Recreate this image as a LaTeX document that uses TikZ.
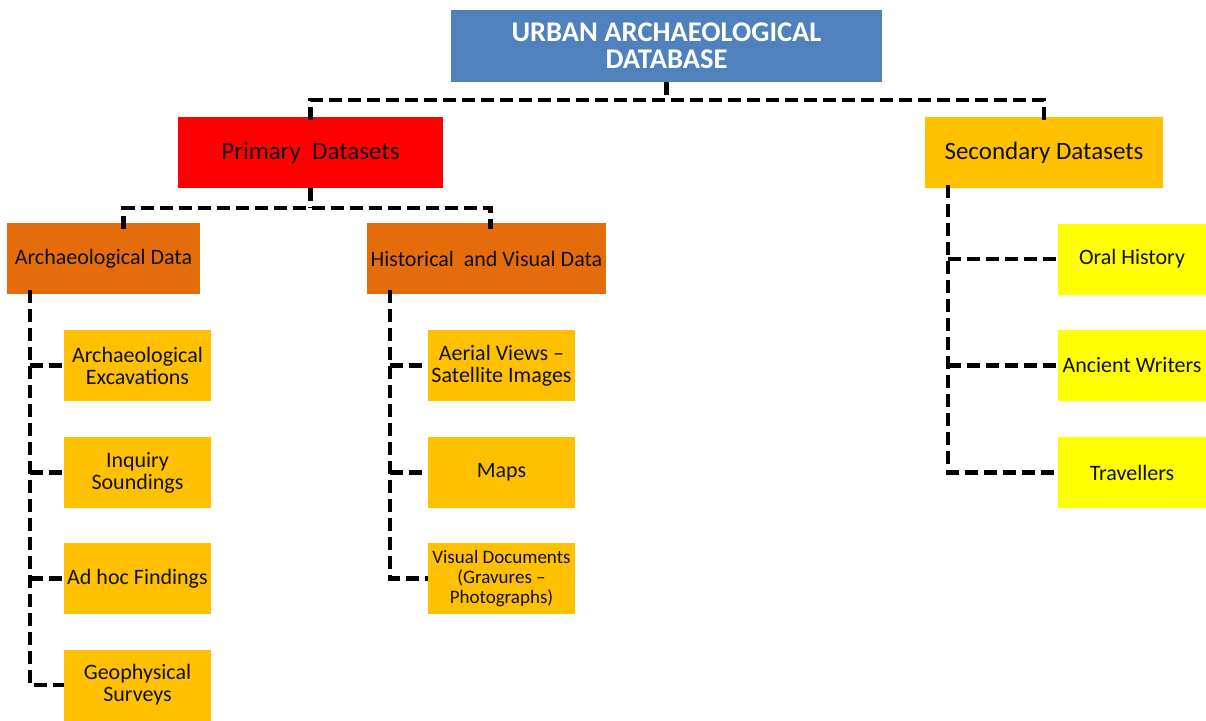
\documentclass[tikz,border=0pt]{standalone}
\usepackage{fontspec}
\setmainfont{Carlito}
\definecolor{cblue}{HTML}{4F81BD}
\definecolor{cred}{HTML}{FF0000}
\definecolor{corange}{HTML}{E46C0A}
\definecolor{camber}{HTML}{FFC000}
\definecolor{cyellow}{HTML}{FFFF00}
\definecolor{ctext}{HTML}{111111}
\tikzset{
  box/.style={rectangle, inner sep=0pt, align=center, text=ctext},
  lvone/.style={box, minimum height=71pt, font=\fontsize{25}{28}\selectfont},
  lvtwo/.style={box, fill=corange, minimum height=71pt, font=\fontsize{22}{24}\selectfont},
  leaf/.style={box, fill=camber, minimum width=147pt, minimum height=71pt, font=\fontsize{22}{22}\selectfont},
  sleaf/.style={box, fill=cyellow, minimum width=148pt, minimum height=71pt, font=\fontsize{22}{22}\selectfont},
  conn/.style={draw=black, line width=4.5pt, dash pattern=on 13pt off 6pt},
}
\begin{document}
\begin{tikzpicture}[x=1pt,y=-1pt]
\useasboundingbox (0,0) rectangle (1206,720);
% nodes
\node[box, fill=cblue, minimum width=431pt, minimum height=72pt, text=white,
      font=\bfseries\fontsize{28.5}{27}\selectfont] (top) at (666.5,46) {URBAN ARCHAEOLOGICAL\\DATABASE};
\node[lvone, fill=cred, minimum width=265pt] (prim) at (310.5,152.5) {Primary\ \ Datasets};
\node[lvone, fill=camber, minimum width=238pt] (sec) at (1044,152.5) {Secondary Datasets};
\node[lvtwo, minimum width=193pt] (arch) at (103.5,258.5) {Archaeological Data};
\node[lvtwo, minimum width=239pt] (hist) at (486.5,258.5) {Historical\ \ and Visual Data};
\node[leaf] (a1) at (137.5,365.5) {Archaeological\\Excavations};
\node[leaf] (a2) at (137.5,472.5) {Inquiry\\Soundings};
\node[leaf] (a3) at (137.5,578.5) {Ad hoc Findings};
\node[leaf] (a4) at (137.5,685) {Geophysical\\Surveys};
\node[leaf] (h1) at (501.5,365.5) {Aerial Views --\\Satellite Images};
\node[leaf] (h2) at (501.5,472.5) {Maps};
\node[leaf, font=\fontsize{19}{20}\selectfont] (h3) at (501.5,578.5) {Visual Documents\\(Gravures --\\Photographs)};
\node[sleaf] (s1) at (1132,259) {Oral History};
\node[sleaf] (s2) at (1132,365.5) {Ancient Writers};
\node[sleaf] (s3) at (1132,472.5) {Travellers};
% helper coordinates
\coordinate (bus1) at (666.5,100);
\coordinate (bus2) at (311,208);
\coordinate (lx) at (30,0);
\coordinate (mx) at (390,0);
\coordinate (rx) at (948,0);
% connectors
\draw[conn] (top.south) -- (top.south |- bus1);
\draw[conn] ([yshift=-3pt]prim.north) -- (prim.north |- bus1) -| ([yshift=-3pt]sec.north);
\draw[conn] (prim.south) -- (prim.south |- bus2);
\draw[conn] ([xshift=20pt,yshift=-6pt]arch.north) |- (bus2) -| ([xshift=4pt,yshift=-6pt]hist.north);
\draw[conn] ([yshift=4pt]arch.south -| lx) |- (a4.west);
\draw[conn] (a1.west -| lx) -- (a1.west);
\draw[conn] (a2.west -| lx) -- (a2.west);
\draw[conn] (a3.west -| lx) -- (a3.west);
\draw[conn] ([yshift=4pt]hist.south -| mx) |- (h3.west);
\draw[conn] (h1.west -| mx) -- (h1.west);
\draw[conn] (h2.west -| mx) -- (h2.west);
\draw[conn] ([yshift=3pt]sec.south -| rx) |- (s3.west);
\draw[conn] (s1.west -| rx) -- (s1.west);
\draw[conn] (s2.west -| rx) -- (s2.west);
\end{tikzpicture}
\end{document}
